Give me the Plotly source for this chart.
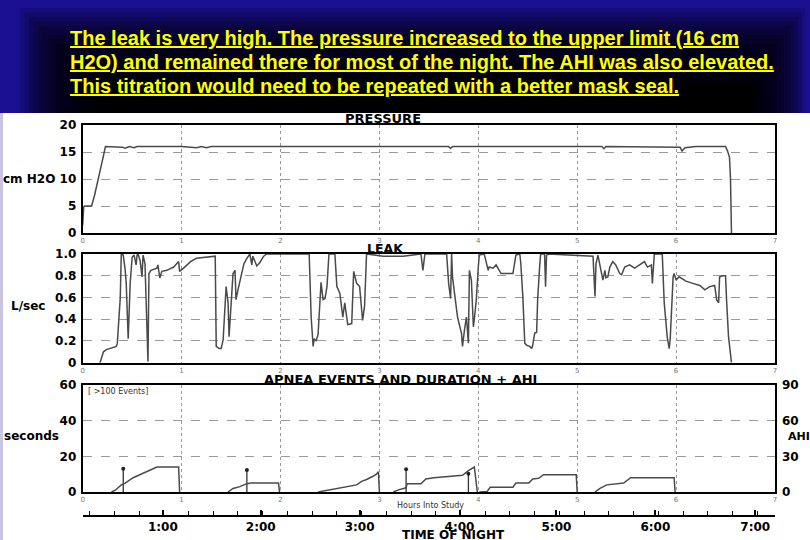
import plotly.graph_objects as go

# ---------------- data ----------------
header_lines = [
    "The leak is very high. The pressure increased to the upper limit (16 cm",
    "H2O) and remained there for most of the night. The AHI was also elevated.",
    "This titration would need to be repeated with a better mask seal.",
]

pressure_hours = [0.0, 0.01, 0.02, 0.09, 0.12, 0.16, 0.20, 0.23, 0.40, 0.43, 0.47, 0.52, 0.55, 0.60,
                  1.0, 1.15, 1.20, 1.25, 1.30, 2.0, 3.0, 3.70, 3.72, 3.74, 5.25, 5.27, 5.29,
                  6.0, 6.04, 6.06, 6.09, 6.20, 6.50, 6.52, 6.54, 6.55, 6.56]
pressure_vals = [1.5, 4.8, 5.0, 5.0, 7.0, 10.0, 13.5, 16.0, 15.9, 15.7, 16.0, 15.8, 16.0, 16.0,
                 16.0, 15.8, 16.0, 15.8, 16.0, 16.0, 16.0, 16.0, 15.7, 16.0, 16.0, 15.6, 16.0,
                 16.0, 15.9, 15.2, 15.8, 16.0, 16.0, 15.2, 14.0, 10.0, 0.0]

leak_hours = [0.175, 0.21, 0.24, 0.30, 0.34, 0.35, 0.38, 0.39, 0.41, 0.43, 0.44, 0.46, 0.48, 0.50,
              0.52, 0.54, 0.55, 0.56, 0.58, 0.60, 0.61, 0.63, 0.65, 0.66, 0.67, 0.69, 0.75, 0.76,
              0.78, 0.80, 0.85, 0.92, 0.97, 0.98, 1.02, 1.09, 1.15, 1.32, 1.34, 1.35, 1.38, 1.40,
              1.42, 1.45, 1.47, 1.48, 1.52, 1.54, 1.55, 1.57, 1.61, 1.63, 1.66, 1.69, 1.71, 1.72,
              1.76, 1.79, 1.83, 1.86, 2.03, 2.29, 2.31, 2.33, 2.34, 2.36, 2.38, 2.41, 2.43, 2.45,
              2.47, 2.49, 2.55, 2.57, 2.60, 2.63, 2.65, 2.68, 2.72, 2.74, 2.77, 2.80, 2.83, 2.85,
              2.87, 3.04, 3.24, 3.42, 3.44, 3.46, 3.68, 3.70, 3.72, 3.73, 3.74, 3.79, 3.83, 3.84,
              3.86, 3.88, 3.90, 3.91, 3.93, 3.95, 3.96, 3.98, 4.00, 4.01, 4.06, 4.08, 4.10, 4.11,
              4.15, 4.18, 4.23, 4.32, 4.35, 4.38, 4.42, 4.43, 4.45, 4.47, 4.49, 4.52, 4.54, 4.55,
              4.57, 4.59, 4.60, 4.62, 4.63, 4.67, 4.68, 4.69, 4.71, 5.16, 5.18, 5.19, 5.21, 5.24,
              5.26, 5.28, 5.29, 5.31, 5.33, 5.36, 5.39, 5.43, 5.45, 5.48, 5.53, 5.58, 5.63, 5.68,
              5.71, 5.75, 5.76, 5.78, 5.86, 5.88, 5.91, 5.93, 5.94, 5.97, 5.98, 6.00, 6.03, 6.10,
              6.17, 6.24, 6.29, 6.34, 6.39, 6.41, 6.43, 6.44, 6.47, 6.50, 6.51, 6.53, 6.56]
leak_vals = [0.0, 0.10, 0.12, 0.14, 0.15, 0.18, 0.60, 1.0, 0.99, 0.85, 0.73, 0.22, 0.73, 0.97,
             0.99, 0.90, 0.99, 1.0, 0.94, 0.79, 0.99, 0.91, 0.12, 0.01, 0.82, 0.85, 0.87, 0.90,
             0.78, 0.84, 0.85, 0.88, 0.93, 0.84, 0.87, 0.93, 0.96, 0.98, 0.98, 0.15, 0.13, 0.13,
             0.21, 0.70, 0.55, 0.24, 0.82, 0.85, 0.58, 0.67, 0.85, 0.91, 0.96, 1.0, 0.90, 0.98,
             0.89, 0.92, 0.98, 1.0, 1.0, 1.0, 0.42, 0.15, 0.22, 0.20, 0.26, 0.74, 0.58, 0.59,
             0.70, 1.0, 1.0, 0.70, 0.64, 0.42, 0.55, 0.35, 0.36, 0.84, 0.73, 0.70, 0.39, 0.52,
             1.0, 0.98, 0.98, 1.0, 0.85, 1.0, 1.0, 0.73, 0.59, 1.0, 0.78, 0.42, 0.27, 0.15,
             0.30, 0.42, 0.18, 0.85, 0.76, 0.33, 0.40, 0.58, 0.88, 0.99, 1.0, 0.91, 0.85, 0.88,
             0.87, 0.90, 0.82, 0.82, 0.82, 0.99, 1.0, 0.91, 0.61, 0.18, 0.16, 0.15, 0.13, 0.16,
             0.27, 0.28, 0.58, 0.88, 1.0, 1.0, 0.70, 0.99, 1.0, 0.98, 0.61, 0.91, 0.99, 0.85,
             0.76, 0.85, 0.78, 0.79, 0.88, 0.93, 0.90, 0.82, 0.81, 0.88, 0.90, 0.87, 0.90, 0.93,
             0.88, 0.90, 0.73, 1.0, 1.0, 0.55, 0.24, 0.13, 0.21, 0.79, 0.82, 0.76, 0.79, 0.75,
             0.73, 0.71, 0.67, 0.70, 0.71, 0.58, 0.55, 0.79, 0.80, 0.80, 0.58, 0.24, 0.0]

# AHI (right axis) accumulating within each hour
ahi_segments = [
    ([0.29, 0.33, 0.39, 0.43, 0.51, 0.61, 0.71, 0.75, 0.97, 0.98],
     [0, 1.5, 6, 7.5, 12, 16, 20, 21, 21, 0]),
    ([1.47, 1.52, 1.59, 1.66, 1.70, 1.98, 1.99],
     [0, 3, 4.5, 7, 7.5, 7.5, 0]),
    ([2.38, 2.45, 2.53, 2.62, 2.70, 2.77, 2.82, 2.87, 2.93, 2.97, 2.99, 3.00],
     [0, 1, 2.5, 3.5, 4.5, 6, 9, 10.5, 13, 15, 17, 0]),
    ([3.14, 3.20, 3.27, 3.28, 3.42, 3.47, 3.55, 3.70, 3.84, 3.90, 3.96, 3.99],
     [0, 2, 3.5, 7, 7, 11, 12, 13, 14, 18, 21, 0]),
    ([4.01, 4.09, 4.12, 4.35, 4.38, 4.51, 4.55, 4.61, 4.66, 4.99, 5.00],
     [0, 0.5, 4, 4, 7.5, 7.5, 11, 11.5, 14.5, 14.5, 0]),
    ([5.18, 5.23, 5.30, 5.40, 5.47, 5.54, 5.98, 5.99],
     [0, 3, 6, 7, 7.5, 12, 12, 0]),
]

event_hours = [0.41, 1.66, 3.27, 3.90]
event_seconds = [13.0, 12.3, 12.8, 10.3]

hour_ticks = [0, 1, 2, 3, 4, 5, 6, 7]
pressure_ticks = [0, 5, 10, 15, 20]
leak_ticks = [0, 0.2, 0.4, 0.6, 0.8, 1.0]
leak_ticktext = ["0", "0.2", "0.4", "0.6", "0.8", "1.0"]
seconds_ticks = [0, 20, 40, 60]
ahi_ticks = [0, 30, 60, 90]
clock_labels = ["1:00", "2:00", "3:00", "4:00", "5:00", "6:00", "7:00"]
clock_hours = [0.81, 1.80, 2.80, 3.81, 4.79, 5.79, 6.80]
clock_minor = [0.07 + 0.25 * i for i in range(28)]

# ---------------- helpers ----------------
W, H = 810, 540
def px(x): return x / W
def py(y): return 1 - y / H

LINE = "#4a4a4a"
GRID = "#9a9a9a"
FONT = "DejaVu Sans, Liberation Sans, Arial, sans-serif"

fig = go.Figure()

fig.add_trace(go.Scatter(x=pressure_hours, y=pressure_vals, mode="lines",
                         line=dict(color=LINE, width=1.5), xaxis="x", yaxis="y", showlegend=False))
fig.add_trace(go.Scatter(x=leak_hours, y=leak_vals, mode="lines",
                         line=dict(color=LINE, width=1.5), xaxis="x2", yaxis="y2", showlegend=False))

ax, ay = [], []
for xs, ys in ahi_segments:
    ax += xs + [None]
    ay += ys + [None]
fig.add_trace(go.Scatter(x=ax, y=ay, mode="lines", line=dict(color=LINE, width=1.5),
                         xaxis="x3", yaxis="y4", showlegend=False))

sx, sy = [], []
for h, s in zip(event_hours, event_seconds):
    sx += [h, h, None]
    sy += [0, s, None]
fig.add_trace(go.Scatter(x=sx, y=sy, mode="lines", line=dict(color="#333", width=1.3),
                         xaxis="x3", yaxis="y3", showlegend=False))
fig.add_trace(go.Scatter(x=event_hours, y=event_seconds, mode="markers",
                         marker=dict(color="#222", size=4), xaxis="x3", yaxis="y3", showlegend=False))
# carrier for time-of-night axis
fig.add_trace(go.Scatter(x=[0, 7], y=[None, None], mode="lines", xaxis="x4", yaxis="y3",
                         showlegend=False, hoverinfo="skip"))

xdom = [px(82.7), px(775)]
xcommon = dict(range=[0, 7], domain=xdom, tickvals=hour_ticks, showgrid=True, gridcolor=GRID,
               griddash="dot", gridwidth=1, showline=True, linecolor="black", linewidth=2,
               mirror=True, ticks="", tickfont=dict(family=FONT, size=7, color="#777"),
               ticklabelstandoff=0, zeroline=False, automargin=False)
ycommon = dict(showgrid=True, gridcolor=GRID, griddash="dash", gridwidth=1, showline=True,
               linecolor="black", linewidth=2, mirror=True, ticks="",
               tickfont=dict(family=FONT, size=12, color="black", weight="bold"),
               ticklabelstandoff=2, zeroline=False, automargin=False)

fig.update_layout(
    width=W, height=H, margin=dict(l=0, r=0, t=0, b=0, pad=0, autoexpand=False),
    paper_bgcolor="white", plot_bgcolor="white",
    xaxis=dict(xcommon, anchor="y"),
    yaxis=dict(ycommon, domain=[py(233), py(125)], range=[0, 20], tickvals=pressure_ticks, anchor="x"),
    xaxis2=dict(xcommon, anchor="y2"),
    yaxis2=dict(ycommon, domain=[py(362.7), py(254)], range=[0, 1], tickvals=leak_ticks,
                ticktext=leak_ticktext, anchor="x2"),
    xaxis3=dict(xcommon, anchor="y3"),
    yaxis3=dict(ycommon, domain=[py(492), py(385)], range=[0, 60], tickvals=seconds_ticks, anchor="x3"),
    yaxis4=dict(range=[0, 90], tickvals=ahi_ticks, overlaying="y3", side="right", anchor="x3",
                showgrid=False, showline=False, ticks="", zeroline=False, automargin=False,
                tickfont=dict(family=FONT, size=12, color="black", weight="bold"),
                ticklabelstandoff=6),
    xaxis4=dict(range=[0, 7], domain=xdom, overlaying="x3", anchor="free", position=py(515.7),
                side="bottom", showgrid=False, zeroline=False, showline=True, linecolor="black",
                linewidth=2, tickvals=clock_hours, ticktext=clock_labels, ticks="inside",
                ticklen=5, tickwidth=1.5, tickcolor="black", automargin=False,
                minor=dict(tickvals=clock_minor, ticks="inside", ticklen=4, tickcolor="black", tickwidth=1),
                tickfont=dict(family=FONT, size=12, color="black", weight="bold"),
                ticklabelstandoff=0),
)

# ---------------- header background ----------------
shapes = []
shapes.append(dict(type="rect", xref="paper", yref="paper", x0=0, x1=1, y0=py(113), y1=1,
                   fillcolor="#1a0f91", line_width=0, layer="below"))
N = 16
for i in range(N):
    shapes.append(dict(type="rect", xref="paper", yref="paper",
                       x0=px(20 + i * 4.5), x1=px(805 - i * 3.5), y0=py(113), y1=py(8 + i * 4.5),
                       fillcolor="black", opacity=0.15, line_width=0, layer="below"))
shapes.append(dict(type="rect", xref="paper", yref="paper", x0=px(95), x1=px(755), y0=py(113),
                   y1=py(85), fillcolor="black", line_width=0, layer="below"))
shapes.append(dict(type="rect", xref="paper", yref="paper", x0=0, x1=px(3), y0=0, y1=py(113),
                   fillcolor="#c9c4e0", line_width=0, layer="below"))
fig.update_layout(shapes=shapes)

# ---------------- text ----------------
ann = []
for i, t in enumerate(header_lines):
    ann.append(dict(text="<u>" + t + "</u>", x=px(68), y=py(38 + 24 * i), xref="paper", yref="paper",
                    xanchor="left", yanchor="middle", showarrow=False,
                    font=dict(family="Liberation Sans Narrow, Arial Narrow, Liberation Sans", size=20,
                              color="#ffff00", weight="bold")))

def label(text, x, y, size=12, bold=True, color="black", xanchor="center"):
    ann.append(dict(text=text, x=px(x), y=py(y), xref="paper", yref="paper", xanchor=xanchor,
                    yanchor="middle", showarrow=False,
                    font=dict(family=FONT, size=size, color=color, weight="bold" if bold else "normal")))

label("PRESSURE", 383, 119, 13)
label("LEAK", 385, 248, 12.5)
label("APNEA EVENTS AND DURATION + AHI", 400, 379.5, 13)
label("cm H2O", 29, 179, 12)
label("L/sec", 28, 306, 12)
label("seconds", 31, 436, 12)
label("AHI", 786, 436, 11, xanchor="left")
label("[ >100 Events]", 86, 391, 8, bold=False, color="#333", xanchor="left")
label("Hours Into Study", 430, 505, 8, bold=False, color="#333")
label("TIME OF NIGHT", 453, 534.5, 12)
fig.update_layout(annotations=ann)

fig.write_html("out.html",
               post_script="document.body.style.margin='0';document.body.style.overflow='hidden';")
